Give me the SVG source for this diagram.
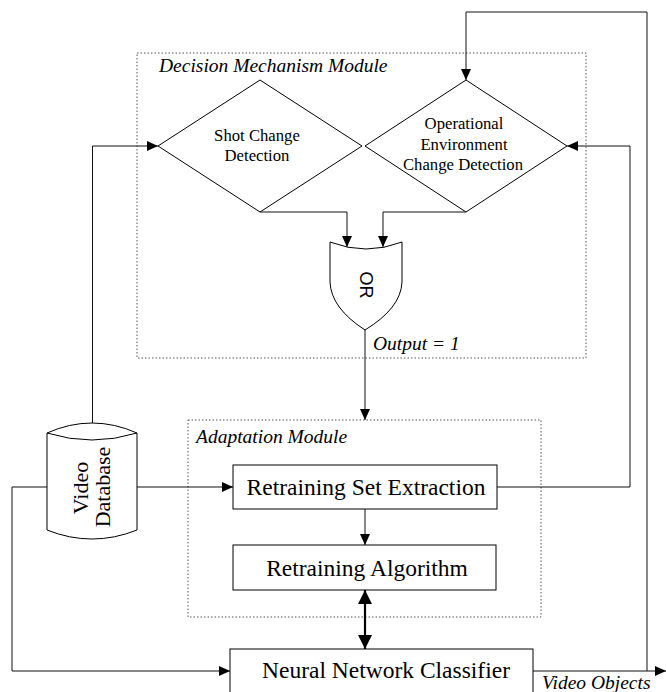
<svg xmlns="http://www.w3.org/2000/svg" width="666" height="692" viewBox="0 0 666 692">
  <style>
    .shape { fill: #fff; stroke: #000; stroke-width: 1; }
    .module { fill: none; stroke: #555; stroke-width: 1; stroke-dasharray: 1.5 2; }
    .wire { fill: none; stroke: #111; stroke-width: 1; }
    .thick { fill: none; stroke: #000; stroke-width: 2.2; }
    .t { font-family: "Liberation Serif", "Times New Roman", serif; fill: #000; }
    .it { font-family: "Liberation Serif", "Times New Roman", serif; font-style: italic; fill: #000; font-size: 19.5px; }
    .sans { font-family: "Liberation Sans", Arial, sans-serif; fill: #000; }
  </style>
  <defs>
    <marker id="arr" markerUnits="userSpaceOnUse" markerWidth="11" markerHeight="10" refX="11" refY="5" orient="auto">
      <path d="M0,0 L11,5 L0,10 Z" fill="#000"/>
    </marker>
    <marker id="big" markerUnits="userSpaceOnUse" markerWidth="14" markerHeight="14" refX="14" refY="7" orient="auto-start-reverse">
      <path d="M0,0 L14,7 L0,14 Z" fill="#000"/>
    </marker>
  </defs>

  <rect width="666" height="692" fill="#fff"/>

  <!-- module frames -->
  <g id="decision-module">
    <rect class="module" x="137" y="53" width="449" height="305"/>
    <text class="it" x="159" y="72">Decision Mechanism Module</text>
  </g>
  <g id="adaptation-module">
    <rect class="module" x="188" y="420" width="353" height="197"/>
    <text class="it" x="196" y="443">Adaptation Module</text>
  </g>

  <!-- connectors -->
  <g id="connectors">
    <path class="wire" d="M92.5,423 V146 H158" marker-end="url(#arr)"/>
    <path class="wire" d="M260,212 H347 V247" marker-end="url(#arr)"/>
    <path class="wire" d="M466,212 H383 V247" marker-end="url(#arr)"/>
    <path class="wire" d="M365,330 V420" marker-end="url(#arr)"/>
    <path class="wire" d="M137,487 H233" marker-end="url(#arr)"/>
    <path class="wire" d="M48,487 H12 V671 H230" marker-end="url(#arr)"/>
    <path class="wire" d="M497,487 H630 V146 H567" marker-end="url(#arr)"/>
    <path class="wire" d="M365,509 V545" marker-end="url(#arr)"/>
    <path class="thick" d="M365,590 V649" marker-start="url(#big)" marker-end="url(#big)"/>
    <path class="wire" d="M533,671 H666" marker-end="url(#arr)"/>
    <path class="wire" d="M647,671 V12 H466 V80" marker-end="url(#arr)"/>
  </g>

  <g id="shot-change">
    <path class="shape" d="M260,80 L362,146 L260,212 L158,146 Z"/>
    <text class="t" font-size="16.7" text-anchor="middle" x="257" y="141">Shot Change</text>
    <text class="t" font-size="16.7" text-anchor="middle" x="257" y="161">Detection</text>
  </g>

  <g id="env-change">
    <path class="shape" d="M466,80 L567,146 L466,212 L365,146 Z"/>
    <text class="t" font-size="16.7" text-anchor="middle" x="464" y="129">Operational</text>
    <text class="t" font-size="16.7" text-anchor="middle" x="464" y="150">Environment</text>
    <text class="t" font-size="16.7" text-anchor="middle" x="463" y="170">Change Detection</text>
  </g>

  <g id="or-gate">
    <path class="shape" d="M330,242 Q366,256 402,242 V282 Q401,308 365,330 Q331,308 330,282 Z"/>
    <text class="sans" font-size="18" text-anchor="middle" transform="translate(360,285) rotate(90)">OR</text>
    <text class="it" x="373" y="350">Output = 1</text>
  </g>

  <g id="video-database">
    <path class="shape" d="M47,433 V530 Q92,548 137,530 V433"/>
    <path class="shape" d="M47,433 Q92,413 137,433 Q92,447 47,433 Z"/>
    <text class="t" font-size="22" text-anchor="middle" transform="translate(88,488) rotate(-90)">Video</text>
    <text class="t" font-size="22" text-anchor="middle" transform="translate(110,487) rotate(-90)">Database</text>
  </g>

  <g id="retraining-set-extraction">
    <rect class="shape" x="233" y="465" width="264" height="44"/>
    <text class="t" font-size="23.5" text-anchor="middle" x="366" y="495">Retraining Set Extraction</text>
  </g>

  <g id="retraining-algorithm">
    <rect class="shape" x="233" y="545" width="263" height="45"/>
    <text class="t" font-size="23.5" text-anchor="middle" x="367" y="576">Retraining Algorithm</text>
  </g>

  <g id="neural-network-classifier">
    <rect class="shape" x="230" y="649" width="303" height="60"/>
    <text class="t" font-size="23.5" text-anchor="middle" x="386" y="678">Neural Network Classifier</text>
  </g>

  <text class="it" x="542" y="689">Video Objects</text>
</svg>
